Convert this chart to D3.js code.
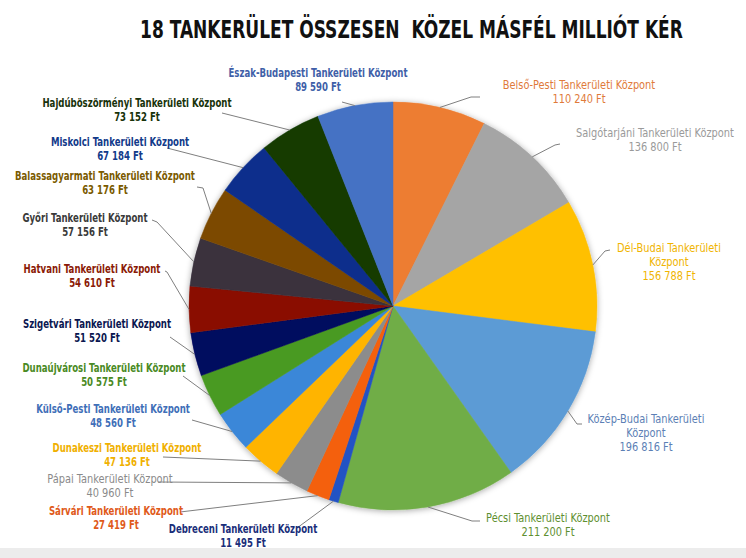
<!DOCTYPE html>
<html><head><meta charset="utf-8">
<script src="https://cdn.jsdelivr.net/npm/d3@7"></script>
<style>html,body{margin:0;padding:0;background:#fff;} svg{display:block}</style>
</head><body>
<svg id="chart" width="746" height="558"></svg>
<script>
// ---- data ----
const categories = [
  "Belső-Pesti Tankerületi Központ",
  "Salgótarjáni Tankerületi Központ",
  "Dél-Budai Tankerületi Központ",
  "Közép-Budai Tankerületi Központ",
  "Pécsi Tankerületi Központ",
  "Debreceni Tankerületi Központ",
  "Sárvári Tankerületi Központ",
  "Pápai Tankerületi Központ",
  "Dunakeszi Tankerületi Központ",
  "Külső-Pesti Tankerületi Központ",
  "Dunaújvárosi Tankerületi Központ",
  "Szigetvári Tankerületi Központ",
  "Hatvani Tankerületi Központ",
  "Győri Tankerületi Központ",
  "Balassagyarmati Tankerületi Központ",
  "Miskolci Tankerületi Központ",
  "Hajdúböszörményi Tankerületi Központ",
  "Észak-Budapesti Tankerületi Központ"
];
const values = [110240, 136800, 156788, 196816, 211200, 11495, 27419, 40960, 47136, 48560, 50575, 51520, 54610, 57156, 63176, 67184, 73152, 89590];
const currency = "Ft";
const title = "18 TANKERÜLET ÖSSZESEN  KÖZEL MÁSFÉL MILLIÓT KÉR";

// ---- styles ----
const sliceColors = ["#ED7D31","#A5A5A5","#FFC000","#5B9BD5","#70AD47","#2452C4","#F4600C","#8C8C8C","#FFB400","#3A87D8","#4A9A22","#03085E","#8A0E00","#3A323E","#7C4A00","#0A2E8C","#123A02","#4472C4"];
const labelColors = ["#E07A3A","#9A9A9A","#F0B400","#5C7FB5","#5E8F30","#1A2E7A","#E05A1A","#8A8A8A","#F0B000","#3F6FB8","#4A8A24","#0A1650","#8B1A06","#3A3A3A","#7A5A00","#123A8A","#18320A","#3F5FA8"];

// ---- layout (label positions, leader ends) ----
const labelLayout = [
  {x:579, y:89,  wrap:false, bold:false, end:[480,97],  elbow:[471,97]},
  {x:655, y:137, wrap:false, bold:false, end:[560,144], elbow:[555,145]},
  {x:669, y:252, wrap:true,  bold:false, end:[610,250], elbow:[605,251]},
  {x:646, y:423, wrap:true,  bold:false, end:[582,424], elbow:[577,424]},
  {x:548, y:522, wrap:false, bold:false, end:[480,521], elbow:[472,521]},
  {x:243, y:533, wrap:false, bold:true,  end:[297,528], elbow:[297,528]},
  {x:116, y:515, wrap:false, bold:true,  end:[180,512], elbow:[180,512]},
  {x:110, y:483, wrap:false, bold:false, end:[158,482], elbow:[158,482]},
  {x:127, y:452, wrap:false, bold:true,  end:[163,457], elbow:[163,457]},
  {x:113, y:413, wrap:false, bold:true,  end:[192,420], elbow:[192,420]},
  {x:104, y:372, wrap:false, bold:true,  end:[183,376], elbow:[183,376]},
  {x:97,  y:328, wrap:false, bold:true,  end:[170,337], elbow:[170,337]},
  {x:92,  y:273, wrap:false, bold:true,  end:[165,271], elbow:[167,272]},
  {x:85,  y:222, wrap:false, bold:true,  end:[152,220], elbow:[157,222]},
  {x:105, y:180, wrap:false, bold:true,  end:[197,187], elbow:[203,188]},
  {x:120, y:146, wrap:false, bold:true,  end:[167,148], elbow:[167,148]},
  {x:137, y:107, wrap:false, bold:true,  end:[222,113], elbow:[222,113]},
  {x:318, y:77,  wrap:false, bold:true,  end:[342,102], elbow:[342,102]}
];

const W = 746, H = 558;
const cx = 393, cy = 306, R = 204;
const FONT = "'Liberation Sans Narrow','DejaVu Sans Condensed','Arial Narrow',sans-serif";
const squeezeBold = 0.83, squeezeNormal = 0.95;

const svg = d3.select("#chart");
const defs = svg.append("defs");
const f = defs.append("filter").attr("id","shadow").attr("x","-20%").attr("y","-20%").attr("width","140%").attr("height","140%");
f.append("feDropShadow").attr("dx",0).attr("dy",1).attr("stdDeviation",3).attr("flood-color","#000").attr("flood-opacity",0.35);

svg.append("rect").attr("x",0).attr("y",0).attr("width",W).attr("height",H).attr("fill","#fff");
svg.append("rect").attr("x",0).attr("y",548).attr("width",W).attr("height",H-548).attr("fill","#ECECEC");

// title: fit width 543 by font size, then stretch vertically
const titleSize = 25, titleW = 543, titleX = 411.5, titleY = 38;
const tt = svg.append("text")
  .attr("text-anchor","middle")
  .attr("font-family",FONT).attr("font-weight","bold").attr("font-size",titleSize)
  .attr("fill","#111")
  .style("white-space","pre")
  .text(title);
const natW = tt.node().getComputedTextLength();
const fs = titleSize * Math.min(1, titleW / natW);
tt.attr("font-size", fs)
  .attr("transform", `translate(${titleX},${titleY}) scale(1,${titleSize/fs})`)
  .attr("x",0).attr("y",0);

const data = categories.map((c,i)=>({name:c, value:values[i], i}));
const pie = d3.pie().sort(null).value(d=>d.value).startAngle(0).endAngle(2*Math.PI);
const arcs = pie(data);
const arc = d3.arc().innerRadius(0).outerRadius(R);

const g = svg.append("g").attr("transform",`translate(${cx},${cy})`);
const pg = g.append("g").attr("filter","url(#shadow)");
pg.selectAll("path").data(arcs).join("path")
  .attr("d",arc)
  .attr("fill",d=>sliceColors[d.data.i])
  .attr("stroke",d=>sliceColors[d.data.i])
  .attr("stroke-width",0.5);

// leader lines
const loc = d3.formatLocale({decimal:",", thousands:" ", grouping:[3], currency:["",""]});
const fmt = loc.format(",d");

arcs.forEach(a=>{
  const L = labelLayout[a.data.i];
  const mid = (a.startAngle + a.endAngle)/2;
  const px = cx + R*Math.sin(mid), py = cy - R*Math.cos(mid);
  svg.append("polyline")
    .attr("points",[L.end, L.elbow, [px,py]].map(p=>p.join(",")).join(" "))
    .attr("fill","none").attr("stroke","#7F7F7F").attr("stroke-width",1);
});

// labels
const labelSize = 11.5;
arcs.forEach(a=>{
  const i = a.data.i, L = labelLayout[i];
  const name = a.data.name;
  let lines;
  if (L.wrap) {
    const k = name.lastIndexOf(" ");
    lines = [name.slice(0,k), name.slice(k+1)];
  } else lines = [name];
  lines.push(fmt(a.data.value) + " " + currency);
  const sq = L.bold ? squeezeBold : squeezeNormal;
  lines.forEach((ln,j)=>{
    const t = svg.append("text")
      .attr("text-anchor","middle")
      .attr("font-family",FONT)
      .attr("font-size",labelSize)
      .attr("font-weight",L.bold?"bold":"normal")
      .attr("fill",labelColors[i])
      .text(ln);
    const w = t.node().getComputedTextLength();
    const s = labelSize * sq;
    t.attr("font-size", s)
     .attr("transform",`translate(${L.x},${L.y + j*14}) scale(1,${1/sq})`)
     .attr("x",0).attr("y",0);
  });
});
</script>
</body></html>
